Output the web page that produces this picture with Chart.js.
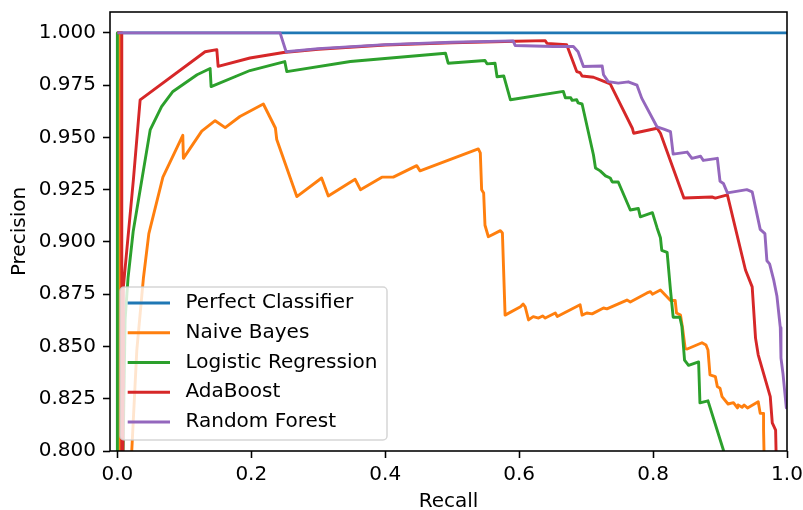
<!DOCTYPE html>
<html>
<head>
<meta charset="utf-8">
<title>Precision-Recall Curves</title>
<script src="https://cdn.jsdelivr.net/npm/chart.js@4.4.1/dist/chart.umd.min.js"></script>
<style>
  html, body { margin: 0; padding: 0; background: #fff; }
  #wrap { width: 803px; height: 510px; }
</style>
</head>
<body>
<div id="wrap"><canvas id="prChart" width="803" height="510"></canvas></div>
<script>
// axis ticks
var xTicks = [0.0, 0.2, 0.4, 0.6, 0.8, 1.0];
var yTicks = [0.800, 0.825, 0.850, 0.875, 0.900, 0.925, 0.950, 0.975, 1.000];

var seriesNames = ['Perfect Classifier', 'Naive Bayes', 'Logistic Regression', 'AdaBoost', 'Random Forest'];
var seriesColors = ['#1f77b4', '#ff7f0e', '#2ca02c', '#d62728', '#9467bd'];

// curves (recall, precision)
var perfectRecall = [0, 1];
var perfectPrecision = [1, 1];

var nbRecall = [
    0, 0.0035, 0.0035, 0.0215, 0.029, 0.039, 0.047, 0.068, 0.0977, 0.0986,
    0.126, 0.146, 0.161, 0.183, 0.218, 0.236, 0.238, 0.268, 0.305, 0.315,
    0.355, 0.363, 0.395, 0.412, 0.447, 0.452, 0.539, 0.542, 0.544, 0.547,
    0.549, 0.554, 0.572, 0.575, 0.579, 0.602, 0.606, 0.609, 0.614, 0.621,
    0.629, 0.635, 0.639, 0.654, 0.657, 0.691, 0.694, 0.701, 0.709, 0.726,
    0.731, 0.761, 0.766, 0.791, 0.796, 0.799, 0.811, 0.826, 0.833, 0.835,
    0.841, 0.844, 0.848, 0.851, 0.873, 0.879, 0.882, 0.885, 0.893, 0.896,
    0.900, 0.903, 0.912, 0.920, 0.926, 0.927, 0.933, 0.936, 0.941, 0.957,
    0.960, 0.965, 0.965, 0.967
];
var nbPrecision = [
    1, 1, 0.6, 0.800, 0.848, 0.883, 0.904, 0.931, 0.951, 0.940,
    0.953, 0.958, 0.9547, 0.960, 0.966, 0.9545, 0.949, 0.9217, 0.9306, 0.922,
    0.930, 0.925, 0.931, 0.931, 0.9365, 0.934, 0.9445, 0.9426, 0.925, 0.9234,
    0.908, 0.9025, 0.9054, 0.9043, 0.865, 0.869, 0.8703, 0.869, 0.8627, 0.8643,
    0.8636, 0.8646, 0.8636, 0.866, 0.8643, 0.870, 0.865, 0.866, 0.8656, 0.8684,
    0.868, 0.8722, 0.8713, 0.8756, 0.8762, 0.875, 0.877, 0.872, 0.872, 0.866,
    0.865, 0.8589, 0.849, 0.8488, 0.8518, 0.8507, 0.8483, 0.8364, 0.8356, 0.8308,
    0.830, 0.826, 0.8225, 0.8231, 0.8206, 0.822, 0.8209, 0.822, 0.8206, 0.8236,
    0.818, 0.818, 0.810, 0.78
];

var lrRecall = [
    0, 0, 0.0085, 0.0116, 0.016, 0.0236, 0.049, 0.066, 0.083, 0.119,
    0.1385, 0.140, 0.198, 0.250, 0.253, 0.348, 0.490, 0.494, 0.549, 0.552,
    0.564, 0.567, 0.577, 0.587, 0.666, 0.669, 0.677, 0.679, 0.686, 0.688,
    0.694, 0.711, 0.714, 0.721, 0.729, 0.736, 0.739, 0.748, 0.766, 0.778,
    0.781, 0.799, 0.806, 0.811, 0.813, 0.821, 0.826, 0.830, 0.840, 0.843,
    0.847, 0.853, 0.868, 0.870, 0.882, 0.905, 0.910
];
var lrPrecision = [
    1, 0.6, 0.800, 0.863, 0.883, 0.905, 0.9536, 0.9647, 0.972, 0.980,
    0.983, 0.9743, 0.982, 0.9863, 0.9815, 0.9863, 0.9903, 0.9855, 0.9868, 0.9852,
    0.9855, 0.979, 0.9794, 0.968, 0.972, 0.969, 0.969, 0.9677, 0.968, 0.9665,
    0.966, 0.9416, 0.9354, 0.934, 0.9316, 0.9306, 0.9287, 0.9287, 0.9153, 0.916,
    0.912, 0.914, 0.9067, 0.902, 0.896, 0.895, 0.877, 0.864, 0.864, 0.8597,
    0.8435, 0.841, 0.8426, 0.823, 0.824, 0.8005, 0.79
];

var abRecall = [
    0, 0.0066, 0.0066, 0.0085, 0.009, 0.024, 0.034, 0.131, 0.1485, 0.1505,
    0.198, 0.248, 0.30, 0.40, 0.50, 0.594, 0.639, 0.6415, 0.671, 0.676,
    0.686, 0.691, 0.694, 0.711, 0.721, 0.736, 0.769, 0.771, 0.806, 0.811,
    0.846, 0.888, 0.893, 0.911, 0.938, 0.948, 0.953, 0.957, 0.975, 0.978,
    0.983, 0.985
];
var abPrecision = [
    1, 1, 0.6, 0.83, 0.8786, 0.930, 0.968, 0.991, 0.992, 0.984,
    0.988, 0.9906, 0.9922, 0.9942, 0.9953, 0.996, 0.9963, 0.995, 0.9943, 0.990,
    0.9815, 0.981, 0.9794, 0.9788, 0.9775, 0.9756, 0.9544, 0.952, 0.9544, 0.952,
    0.921, 0.9215, 0.921, 0.9225, 0.8866, 0.8785, 0.854, 0.846, 0.826, 0.8135,
    0.810, 0.78
];

var rfRecall = [
    0, 0.243, 0.252, 0.30, 0.40, 0.50, 0.591, 0.594, 0.651, 0.681,
    0.688, 0.696, 0.724, 0.726, 0.733, 0.748, 0.763, 0.776, 0.783, 0.806,
    0.816, 0.826, 0.830, 0.851, 0.858, 0.871, 0.875, 0.896, 0.900, 0.905,
    0.911, 0.940, 0.948, 0.960, 0.967, 0.970, 0.974, 0.980, 0.985, 0.990,
    0.991, 0.994, 0.999, 1.0
];
var rfPrecision = [
    1, 1, 0.991, 0.9925, 0.9944, 0.9955, 0.9962, 0.994, 0.9935, 0.9935,
    0.991, 0.9839, 0.9842, 0.980, 0.9767, 0.976, 0.9766, 0.975, 0.9688, 0.955,
    0.954, 0.9528, 0.942, 0.943, 0.940, 0.941, 0.939, 0.940, 0.929, 0.928,
    0.9235, 0.925, 0.924, 0.906, 0.904, 0.891, 0.8895, 0.882, 0.874, 0.859,
    0.8445, 0.837, 0.8206, 0.8205
];

function toPoints(rs, ps) {
    return rs.map(function (r, i) { return { x: r, y: ps[i] }; });
}

var curves = [
    toPoints(perfectRecall, perfectPrecision),
    toPoints(nbRecall, nbPrecision),
    toPoints(lrRecall, lrPrecision),
    toPoints(abRecall, abPrecision),
    toPoints(rfRecall, rfPrecision)
];

var LW = 2.9;
var FRAME_W = 1.56;
var FONT_PX = 20;

Chart.defaults.font.family = '"DejaVu Sans", sans-serif';
Chart.defaults.font.size = FONT_PX;
Chart.defaults.color = '#000';

// spines on all four sides, plus the boxed legend inside the axes
var framePlugin = {
    id: 'frameAndLegend',
    afterDatasetsDraw: function (chart) {
        var ctx = chart.ctx;
        var a = chart.chartArea;
        ctx.save();
        ctx.strokeStyle = '#000';
        ctx.lineWidth = FRAME_W;
        ctx.strokeRect(a.left, a.top, a.right - a.left, a.bottom - a.top);

        // legend box
        var bx = 120, by = 287, bw = 267, bh = 153, rad = 4;
        ctx.beginPath();
        ctx.moveTo(bx + rad, by);
        ctx.lineTo(bx + bw - rad, by);
        ctx.arcTo(bx + bw, by, bx + bw, by + rad, rad);
        ctx.lineTo(bx + bw, by + bh - rad);
        ctx.arcTo(bx + bw, by + bh, bx + bw - rad, by + bh, rad);
        ctx.lineTo(bx + rad, by + bh);
        ctx.arcTo(bx, by + bh, bx, by + bh - rad, rad);
        ctx.lineTo(bx, by + rad);
        ctx.arcTo(bx, by, bx + rad, by, rad);
        ctx.closePath();
        ctx.fillStyle = 'rgba(255,255,255,0.8)';
        ctx.fill();
        ctx.strokeStyle = 'rgba(204,204,204,0.8)';
        ctx.lineWidth = 1.5;
        ctx.stroke();

        ctx.font = FONT_PX + 'px "DejaVu Sans", sans-serif';
        ctx.textBaseline = 'middle';
        ctx.textAlign = 'left';
        chart.data.datasets.forEach(function (ds, i) {
            var y = 303 + i * 29.75;
            ctx.beginPath();
            ctx.moveTo(127.7, y);
            ctx.lineTo(170, y);
            ctx.strokeStyle = ds.borderColor;
            ctx.lineWidth = LW;
            ctx.stroke();
            ctx.fillStyle = '#000';
            ctx.fillText(ds.label, 185.5, y);
        });
        ctx.restore();
    }
};

var ctx = document.getElementById('prChart').getContext('2d');
var prChart = new Chart(ctx, {
    type: 'scatter',
    data: {
        datasets: curves.map(function (pts, i) {
            return {
                label: seriesNames[i],
                data: pts,
                showLine: true,
                borderColor: seriesColors[i],
                backgroundColor: seriesColors[i],
                borderWidth: LW,
                borderJoinStyle: 'round',
                pointRadius: 0,
                pointHoverRadius: 0,
                tension: 0,
                clip: 0,
                order: seriesNames.length - i
            };
        })
    },
    options: {
        responsive: false,
        animation: false,
        events: [],
        layout: { padding: { top: 12, right: 16, left: 0, bottom: 0 } },
        plugins: {
            legend: { display: false },
            tooltip: { enabled: false }
        },
        scales: {
            x: {
                type: 'linear',
                min: -0.011,
                max: 1.0,
                border: { display: false },
                grid: {
                    drawOnChartArea: false,
                    drawTicks: true,
                    tickLength: 7,
                    tickWidth: FRAME_W,
                    tickColor: '#000'
                },
                ticks: {
                    padding: 5,
                    autoSkip: false,
                    maxRotation: 0,
                    callback: function (v) { return Number(v).toFixed(1); }
                },
                afterBuildTicks: function (scale) {
                    scale.ticks = xTicks.map(function (v) { return { value: v }; });
                },
                afterFit: function (scale) {
                    scale.height = 59;
                    scale.paddingLeft = 0;
                    scale.paddingRight = 0;
                },
                title: {
                    display: true,
                    text: 'Recall',
                    font: { size: FONT_PX, lineHeight: 1 },
                    padding: { top: 0, bottom: -1.6 }
                }
            },
            y: {
                type: 'linear',
                min: 0.8,
                max: 1.01,
                border: { display: false },
                grid: {
                    drawOnChartArea: false,
                    drawTicks: true,
                    tickLength: 7,
                    tickWidth: FRAME_W,
                    tickColor: '#000'
                },
                ticks: {
                    padding: 7,
                    autoSkip: false,
                    callback: function (v) { return Number(v).toFixed(3); }
                },
                afterBuildTicks: function (scale) {
                    scale.ticks = yTicks.map(function (v) { return { value: v }; });
                },
                afterFit: function (scale) {
                    scale.width = 110;
                    scale.paddingTop = 0;
                    scale.paddingBottom = 0;
                },
                title: {
                    display: true,
                    text: 'Precision',
                    font: { size: FONT_PX, lineHeight: 1 },
                    padding: { top: 10, bottom: 0 }
                }
            }
        }
    },
    plugins: [framePlugin]
});
</script>
</body>
</html>
